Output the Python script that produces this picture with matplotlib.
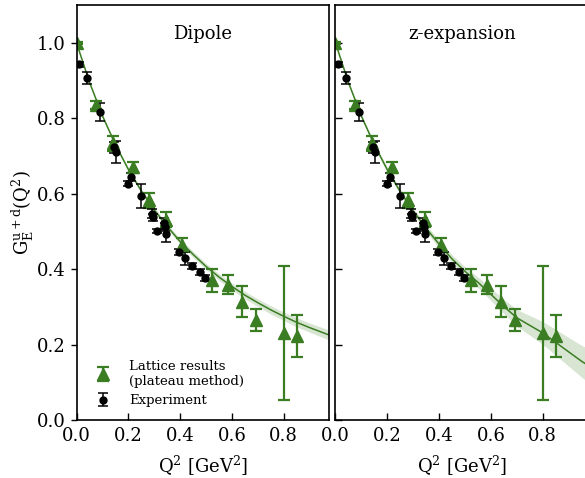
import numpy as np
import matplotlib
matplotlib.use("Agg")
import matplotlib.pyplot as plt

plt.rcParams["font.family"] = ["DejaVu Serif"]
plt.rcParams["mathtext.fontset"] = "dejavuserif"

# Lattice results (plateau method)
lat_q2 = [0.0, 0.074, 0.141, 0.217, 0.280, 0.344, 0.406, 0.524, 0.584, 0.638, 0.694, 0.801, 0.850]
lat_g = [1.0, 0.836, 0.734, 0.670, 0.583, 0.532, 0.464, 0.371, 0.360, 0.315, 0.266, 0.231, 0.224]
lat_err = [0.002, 0.010, 0.020, 0.015, 0.020, 0.020, 0.018, 0.030, 0.025, 0.041, 0.029, 0.177, 0.055]

# Experiment
exp_q2 = [0.010, 0.039, 0.091, 0.143, 0.151, 0.200, 0.210, 0.248, 0.290, 0.294,
          0.310, 0.338, 0.342, 0.346, 0.395, 0.418, 0.445, 0.477, 0.495]
exp_g = [0.943, 0.907, 0.817, 0.723, 0.711, 0.627, 0.645, 0.594, 0.548, 0.538,
         0.502, 0.522, 0.513, 0.495, 0.447, 0.429, 0.408, 0.394, 0.378]
exp_err = [0.006, 0.015, 0.023, 0.015, 0.028, 0.006, 0.010, 0.032, 0.012, 0.010,
           0.006, 0.015, 0.010, 0.021, 0.008, 0.016, 0.008, 0.008, 0.008]

# Fit curves
fit_q2 = [0.0, 0.05, 0.10, 0.15, 0.20, 0.25, 0.30, 0.35, 0.40, 0.45, 0.50,
          0.55, 0.60, 0.65, 0.70, 0.75, 0.80, 0.85, 0.90, 0.95, 1.00]
dip_g = [1.0, 0.896, 0.807, 0.731, 0.665, 0.608, 0.558, 0.514, 0.474, 0.440, 0.408,
         0.380, 0.355, 0.332, 0.312, 0.293, 0.276, 0.260, 0.246, 0.233, 0.220]
dip_band = [0.0, 0.002, 0.003, 0.004, 0.005, 0.006, 0.006, 0.007, 0.007, 0.008, 0.008,
            0.009, 0.009, 0.010, 0.010, 0.011, 0.011, 0.012, 0.012, 0.013, 0.013]
zexp_g = [1.0, 0.895, 0.806, 0.730, 0.664, 0.606, 0.555, 0.509, 0.467, 0.428, 0.395,
          0.366, 0.334, 0.302, 0.272, 0.252, 0.232, 0.207, 0.182, 0.157, 0.135]
zexp_band = [0.0, 0.003, 0.005, 0.006, 0.007, 0.008, 0.008, 0.009, 0.010, 0.011, 0.012,
             0.014, 0.016, 0.019, 0.022, 0.026, 0.030, 0.034, 0.038, 0.042, 0.046]

green = "#3a7d22"

fig = plt.figure(figsize=(5.85, 4.78), dpi=100)
ax1 = fig.add_axes([0.1308, 0.1203, 0.4316, 0.869])
ax2 = fig.add_axes([0.5735, 0.1203, 0.4316, 0.869])

for ax, fit_g, band, title in [(ax1, dip_g, dip_band, "Dipole"),
                               (ax2, zexp_g, zexp_band, "z-expansion")]:
    q = np.array(fit_q2)
    g = np.array(fit_g)
    b = np.array(band)
    ax.fill_between(q, g - b, g + b, color=green, alpha=0.2, lw=0)
    ax.plot(q, g, color=green, lw=1.1)
    ax.errorbar(lat_q2, lat_g, yerr=lat_err, fmt="^", color=green, ms=9,
                elinewidth=1.6, capsize=4, capthick=1.6,
                label="Lattice results\n(plateau method)")
    ax.errorbar(exp_q2, exp_g, yerr=exp_err, fmt="o", color="black", ms=5,
                elinewidth=1.1, capsize=3.5, capthick=1.1, label="Experiment")
    ax.set_xlim(0, 0.975)
    ax.set_ylim(0, 1.1)
    ax.set_xticks([0.0, 0.2, 0.4, 0.6, 0.8])
    ax.set_yticks([0.0, 0.2, 0.4, 0.6, 0.8, 1.0])
    ax.tick_params(axis="x", direction="in", length=5, width=1, labelsize=13, pad=5)
    ax.text(0.5, 0.93, title, transform=ax.transAxes, ha="center", va="center", fontsize=13)
    ax.set_xlabel(r"Q$^2$ [GeV$^2$]", fontsize=13, labelpad=6)
    for s in ax.spines.values():
        s.set_linewidth(1.2)

ax1.tick_params(axis="y", direction="out", length=4, width=1, labelsize=13)
ax2.tick_params(axis="y", direction="in", length=5, width=1, labelleft=False)
ax1.set_ylabel(r"$\mathrm{G_E^{u+d}(Q^2)}$", fontsize=13, labelpad=1)

ax1.legend(loc="lower left", frameon=False, fontsize=9.5, handletextpad=1.0,
           borderaxespad=0.6, labelspacing=0.5, numpoints=1)

fig.savefig("out.png", dpi=100)
